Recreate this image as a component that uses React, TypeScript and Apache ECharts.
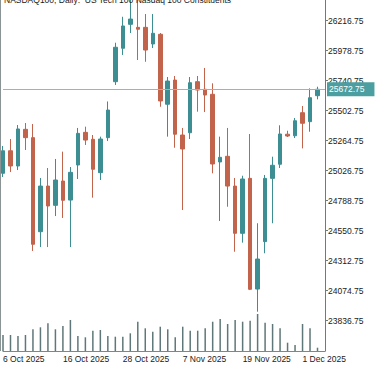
import { useEffect, useRef } from "react";
import * as echarts from "echarts";

const dates = [
  "6 Oct 2025", "7 Oct 2025", "8 Oct 2025", "9 Oct 2025", "10 Oct 2025",
  "13 Oct 2025", "14 Oct 2025", "15 Oct 2025", "16 Oct 2025", "17 Oct 2025",
  "20 Oct 2025", "21 Oct 2025", "22 Oct 2025", "23 Oct 2025", "24 Oct 2025",
  "27 Oct 2025", "28 Oct 2025", "29 Oct 2025", "30 Oct 2025", "31 Oct 2025",
  "3 Nov 2025", "4 Nov 2025", "5 Nov 2025", "6 Nov 2025", "7 Nov 2025",
  "10 Nov 2025", "11 Nov 2025", "12 Nov 2025", "13 Nov 2025", "14 Nov 2025",
  "17 Nov 2025", "18 Nov 2025", "19 Nov 2025", "20 Nov 2025", "21 Nov 2025",
  "24 Nov 2025", "25 Nov 2025", "26 Nov 2025", "27 Nov 2025", "28 Nov 2025",
  "1 Dec 2025", "2 Dec 2025", "3 Dec 2025",
];

const opens = [
  25006, 25185, 25064, 25355, 25289, 24543, 24905, 24752, 24945, 24794,
  25072, 25331, 25276, 25011, 25289, 25733, 25998, 26188, 26164, 26164,
  26032, 26109, 25554, 25746, 25310, 25328, 25733, 25673, 25633, 25096,
  25141, 24905, 24530, 24966, 24088, 24464, 24966, 25078, 25316, 25304,
  25487, 25416, 25622,
];
const closes = [
  25185, 25064, 25358, 25289, 24443, 24905, 24747, 24953, 24792, 25014,
  25323, 25270, 25038, 25278, 25508, 26006, 26175, 26230, 26149, 25984,
  26117, 25580, 25738, 25316, 25199, 25725, 25667, 25627, 25080, 25133,
  24905, 24530, 24961, 24086, 24326, 24966, 25070, 25318, 25302, 25423,
  25403, 25606, 25672.75,
];
const lows = [
  24977, 25016, 25032, 25191, 24390, 24421, 24421, 24667, 24652, 24421,
  24961, 25231, 24813, 24953, 25262, 25707, 25945, 26119, 25905, 25891,
  26000, 25534, 25297, 25209, 24715, 25278, 25495, 25492, 25006, 24628,
  24741, 24384, 24456, 24080, 23908, 24372, 24610, 25048, 25294, 25286,
  25204, 25336, 25593,
];
const highs = [
  25223, 25278, 25389, 25405, 25397, 24969, 25048, 25120, 25178, 25056,
  25366, 25376, 25310, 25297, 25576, 26042, 26248, 26405, 26395, 26270,
  26270, 26119, 25770, 25778, 25366, 25770, 25778, 25842, 25720, 25297,
  25366, 24969, 24987, 25318, 24610, 24993, 25138, 25387, 25344, 25445,
  25540, 25680, 25693,
];
const volumes = [
  160000, 160000, 150000, 160000, 217000, 237000, 277000, 217000, 250000, 310000,
  150000, 137000, 203000, 210000, 150000, 143000, 143000, 177000, 293000, 227000,
  193000, 243000, 217000, 137000, 243000, 203000, 203000, 227000, 293000, 320000,
  270000, 310000, 293000, 303000, 370000, 283000, 270000, 227000, 83000, 60000,
  270000, 227000, 33000,
];
const priceTicks = [
  23836.75, 24074.75, 24312.75, 24550.75, 24788.75, 25026.75,
  25264.75, 25502.75, 25740.75, 25978.75, 26216.75,
];
const titleText = "NASDAQ100, Daily:  US Tech 100 Nasdaq 100 Constituents";

const FONT = "Liberation Sans";
const UP = "#3d8e93";
const DOWN = "#c2634c";

export default function App() {
  const ref = useRef<HTMLDivElement>(null);
  useEffect(() => {
    const chart = echarts.init(ref.current!, undefined, { renderer: "svg" });
    const candles = dates.map((_, i) => [opens[i], closes[i], lows[i], highs[i]]);
    const last = closes[closes.length - 1];
    chart.setOption({
      animation: false,
      backgroundColor: "#ffffff",
      textStyle: { fontFamily: FONT },
      grid: { left: 1.5, right: 50, top: 0, bottom: 15 },
      xAxis: {
        type: "category",
        data: [...dates, ""],
        boundaryGap: false,
        axisLine: { show: true, lineStyle: { color: "#7d8787", width: 1 } },
        axisTick: { show: false },
        axisLabel: {
          interval: 7,
          align: "left",
          margin: 3,
          fontSize: 8.5,
          color: "#1a1a1a",
          fontFamily: FONT,
        },
        splitLine: { show: false },
      },
      yAxis: [
        {
          type: "value",
          position: "right",
          min: 23596.5,
          max: 26381,
          axisLine: { show: true, lineStyle: { color: "#6f7a7a", width: 1 } },
          axisTick: {
            show: true,
            length: 3,
            customValues: priceTicks,
            lineStyle: { color: "#6f7a7a" },
          },
          axisLabel: {
            customValues: priceTicks,
            formatter: (v: number) => v.toFixed(2),
            margin: 3,
            fontSize: 8.5,
            color: "#1a1a1a",
            fontFamily: FONT,
          },
          splitLine: { show: false },
        },
        { type: "value", min: 0, max: 3510000, show: false },
      ],
      graphic: [
        {
          type: "line",
          shape: { x1: 0.5, y1: 0, x2: 0.5, y2: 351 },
          style: { stroke: "#8a9494", lineWidth: 1 },
          z: 10,
        },
        {
          type: "text",
          x: 4,
          y: -0.5,
          style: {
            text: titleText,
            font: `8.5px ${FONT}`,
            fill: "#1a1a1a",
            verticalAlign: "middle",
          },
          z: 10,
        },
      ],
      series: [
        {
          type: "bar",
          yAxisIndex: 1,
          data: volumes,
          barWidth: 1.5,
          itemStyle: { color: "#5f7778" },
          silent: true,
          z: 1,
        },
        {
          type: "candlestick",
          data: candles,
          barWidth: 4,
          clip: false,
          itemStyle: {
            color: UP,
            color0: DOWN,
            borderColor: UP,
            borderColor0: DOWN,
            borderWidth: 1,
          },
          z: 3,
          markLine: {
            silent: true,
            symbol: ["none", "none"],
            data: [{ yAxis: last }],
            lineStyle: { color: "#a7b0b0", width: 1, type: "solid" },
            label: {
              show: true,
              position: "end",
              distance: 2,
              formatter: (p: any) => Number(p.value).toFixed(2),
              backgroundColor: "#4b9fa1",
              color: "#ffffff",
              fontSize: 8.5,
              fontFamily: FONT,
              padding: [3, 10, 2, 2],
            },
          },
        },
      ],
    });
    return () => chart.dispose();
  }, []);
  return (
    <div
      ref={ref}
      style={{ position: "absolute", left: 0, top: 0, width: 375, height: 366, background: "#fff" }}
    />
  );
}
